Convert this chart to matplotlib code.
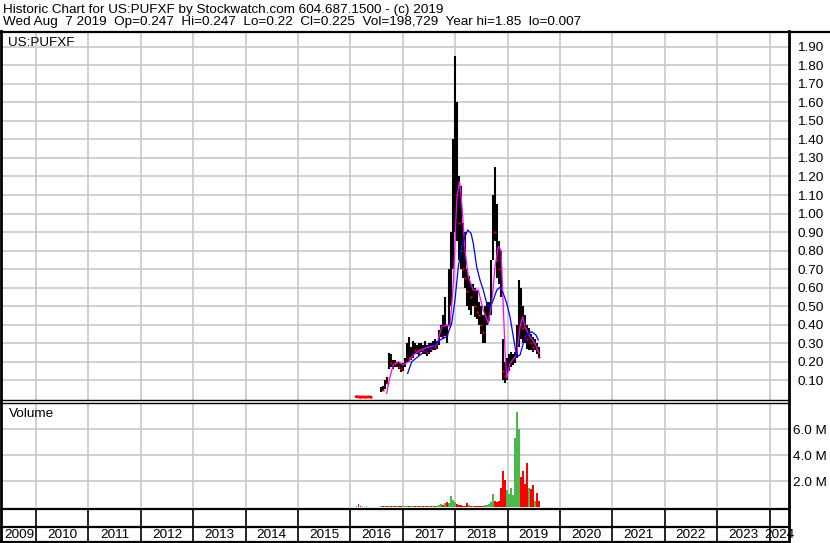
import numpy as np
import pandas as pd
import matplotlib
matplotlib.use("Agg")
import matplotlib.pyplot as plt
from matplotlib.lines import Line2D

plt.rcParams['font.family'] = ['Liberation Sans', 'DejaVu Sans']

# biweekly bars, Feb 2016 .. Aug 2019 (NaN = no trading shown)
bar_dates = pd.date_range('2016-02-12', periods=92, freq='14D')
nan = np.nan
highs = [0.015, 0.015, 0.012, 0.013, 0.012, 0.011, 0.012, 0.010, nan, nan, nan, nan,
         0.06, 0.07, 0.10, 0.115, 0.245, 0.24, 0.21, 0.21, 0.20, 0.20, 0.19, 0.19,
         0.22, 0.30, 0.33, 0.28, 0.31, 0.30, 0.29, 0.30, 0.30, 0.29, 0.31, 0.29,
         0.30, 0.30, 0.31, 0.32, 0.31, 0.37, 0.40, 0.45, 0.55, 0.40, 0.70, 0.90,
         1.40, 1.85, 1.60, 1.20, 1.15, 0.95, 0.90, 0.70, 0.66, 0.62, 0.62, 0.60,
         0.58, 0.52, 0.50, 0.45, 0.50, 0.52, 0.52, 0.75, 1.10, 1.25, 1.05, 0.85,
         0.80, 0.32, 0.20, 0.22, 0.24, 0.25, 0.24, 0.25, 0.40, 0.64, 0.60, 0.50,
         0.45, 0.40, 0.38, 0.35, 0.33, 0.32, 0.30, 0.28]
lows = [0.007, 0.008, 0.007, 0.007, 0.007, 0.007, 0.008, 0.007, nan, nan, nan, nan,
        0.035, 0.04, 0.05, 0.08, 0.16, 0.17, 0.16, 0.17, 0.17, 0.16, 0.145, 0.15,
        0.17, 0.19, 0.20, 0.21, 0.22, 0.24, 0.24, 0.23, 0.25, 0.24, 0.24, 0.23,
        0.24, 0.25, 0.26, 0.26, 0.27, 0.29, 0.33, 0.32, 0.34, 0.30, 0.40, 0.50,
        0.70, 0.90, 0.85, 0.75, 0.70, 0.65, 0.60, 0.50, 0.48, 0.45, 0.50, 0.44,
        0.43, 0.40, 0.35, 0.30, 0.30, 0.40, 0.42, 0.45, 0.75, 0.85, 0.65, 0.62,
        0.55, 0.10, 0.085, 0.10, 0.15, 0.17, 0.18, 0.19, 0.22, 0.28, 0.32, 0.30,
        0.30, 0.27, 0.26, 0.26, 0.25, 0.26, 0.24, 0.22]
closes = [0.010, 0.009, 0.008, 0.009, 0.008, 0.008, 0.009, 0.008, nan, nan, nan, nan,
          0.05, 0.045, 0.09, 0.085, 0.21, 0.19, 0.20, 0.19, 0.19, 0.17, 0.16, 0.18,
          0.20, 0.24, 0.22, 0.25, 0.27, 0.26, 0.27, 0.25, 0.27, 0.26, 0.27, 0.25,
          0.28, 0.27, 0.29, 0.28, 0.30, 0.35, 0.37, 0.34, 0.40, 0.35, 0.62, 0.85,
          1.20, 1.50, 1.10, 0.95, 0.80, 0.70, 0.65, 0.58, 0.60, 0.55, 0.57, 0.50,
          0.47, 0.45, 0.40, 0.36, 0.42, 0.45, 0.50, 0.70, 1.00, 0.90, 0.75, 0.70,
          0.60, 0.15, 0.12, 0.19, 0.20, 0.21, 0.22, 0.23, 0.35, 0.45, 0.40, 0.38,
          0.34, 0.32, 0.33, 0.30, 0.28, 0.29, 0.26, 0.225]
volumes = [0.05, 0.25, 0.05, 0.05, 0.03, 0.05, 0.03, 0.02, 0, 0, 0, 0,
           0.05, 0.08, 0.06, 0.05, 0.07, 0.06, 0.05, 0.06, 0.05, 0.04, 0.06, 0.08,
           0.06, 0.10, 0.08, 0.05, 0.06, 0.10, 0.07, 0.05, 0.08, 0.06, 0.09, 0.07,
           0.05, 0.08, 0.06, 0.10, 0.08, 0.15, 0.20, 0.12, 0.30, 0.35, 0.30, 0.85,
           0.55, 0.40, 0.20, 0.15, 0.12, 0.10, 0.08, 0.30, 0.15, 0.08, 0.05, 0.07,
           0.10, 0.06, 0.08, 0.10, 0.12, 0.15, 0.25, 0.40, 1.00, 0.50, 0.40, 0.50,
           1.50, 2.80, 2.10, 1.30, 1.00, 1.50, 0.90, 5.30, 7.30, 6.00, 2.30, 2.80,
           1.80, 3.40, 1.50, 1.40, 1.70, 0.50, 1.10, 0.50]

# moving averages (decimal years, price)
ma_short_x = [2016.693, 2016.756, 2016.819, 2016.914, 2017.010, 2017.105, 2017.200,
              2017.328, 2017.456, 2017.647, 2017.742, 2017.838, 2017.901, 2017.964,
              2018.029, 2018.078, 2018.105, 2018.143, 2018.187, 2018.250, 2018.345,
              2018.441, 2018.536, 2018.632, 2018.697, 2018.760, 2018.823, 2018.874,
              2018.918, 2018.950, 2018.983, 2019.046, 2019.174, 2019.237, 2019.288,
              2019.332, 2019.427, 2019.523, 2019.599]
ma_short_y = [0.028, 0.118, 0.181, 0.199, 0.181, 0.199, 0.235, 0.262, 0.275, 0.289,
              0.388, 0.397, 0.388, 0.623, 1.073, 1.172, 1.127, 0.983, 0.803, 0.658,
              0.586, 0.586, 0.478, 0.406, 0.515, 0.712, 0.821, 0.803, 0.496, 0.262,
              0.109, 0.190, 0.235, 0.388, 0.442, 0.388, 0.334, 0.298, 0.244]
ma_long_x = [2017.093, 2017.170, 2017.328, 2017.456, 2017.582, 2017.710, 2017.838,
             2017.933, 2017.996, 2018.059, 2018.124, 2018.187, 2018.239, 2018.302,
             2018.345, 2018.410, 2018.473, 2018.536, 2018.601, 2018.664, 2018.727,
             2018.792, 2018.855, 2018.918, 2018.983, 2019.046, 2019.109, 2019.174,
             2019.237, 2019.300, 2019.365, 2019.460, 2019.542, 2019.586]
ma_long_y = [0.136, 0.199, 0.235, 0.262, 0.280, 0.316, 0.334, 0.406, 0.532, 0.712,
             0.821, 0.875, 0.911, 0.893, 0.839, 0.712, 0.641, 0.586, 0.515, 0.496,
             0.532, 0.586, 0.601, 0.568, 0.515, 0.442, 0.334, 0.226, 0.235, 0.298,
             0.343, 0.361, 0.343, 0.316]

years = list(range(2009, 2025))
price_ticks = [round(0.1 * k, 2) for k in range(1, 20)]
vol_ticks = [2, 4, 6]

W, H = 830, 543
fig = plt.figure(figsize=(W / 100, H / 100), dpi=100)
fig.patch.set_facecolor('white')

def rect(x0, y0, x1, y1):
    return [x0 / W, 1 - y1 / H, (x1 - x0) / W, (y1 - y0) / H]

def px_to_year(p):
    return 2010 + (p - 36) / 52.4

def ftext(xp, yp, s, **kw):
    fig.text(xp / W, 1 - yp / H, s, va='center', **kw)

X0, X1 = px_to_year(2), px_to_year(789)
grid_col = '#c8c8c8'
FS = 9.7

x = np.array([d.year + (d.dayofyear - 0.5) / 365.25 for d in bar_dates])
highs = np.array(highs); lows = np.array(lows); closes = np.array(closes)
volumes = np.array(volumes)
prev = np.concatenate([[closes[0]], closes[:-1]])
down = closes < prev

# price panel
ax = fig.add_axes(rect(2, 32, 789, 400))
ax.set_xlim(X0, X1)
ax.set_ylim(-0.008, 1.981)
for yr in years[1:]:
    ax.axvline(yr, color=grid_col, lw=1.2, zorder=0)
for t in price_ticks:
    ax.axhline(t, color=grid_col, lw=1.2, zorder=0)
ax.vlines(x, lows, highs, color='black', lw=1.5, zorder=2)
ax.plot(x[down], closes[down], 's', color='red', ms=2, mec='none', zorder=3)
ax.plot(x[:8], closes[:8], '-', color='red', lw=2, zorder=3)
ax.plot(ma_short_x, ma_short_y, color='#ff00ff', lw=0.9, zorder=4)
ax.plot(ma_long_x, ma_long_y, color='#0000ff', lw=0.9, zorder=4)
ax.yaxis.tick_right()
ax.set_yticks(price_ticks)
ax.set_yticklabels(['%.2f' % t for t in price_ticks], fontsize=FS)
ax.tick_params(axis='y', length=0, pad=6)
ax.set_xticks([])
for s in ax.spines.values():
    s.set_visible(False)

# volume panel
av = fig.add_axes(rect(2, 403, 789, 507))
av.set_xlim(X0, X1)
av.set_ylim(0, 8.0)
for yr in years[1:]:
    av.axvline(yr, color=grid_col, lw=1.2, zorder=0)
for t in vol_ticks:
    av.axhline(t, color=grid_col, lw=1.2, zorder=0)
vcol = np.where(down, 'red', '#4cb84c')
av.bar(x, volumes, width=0.036, color=vcol, lw=0, zorder=2)
av.yaxis.tick_right()
av.set_yticks(vol_ticks)
av.set_yticklabels(['%.1f M' % t for t in vol_ticks], fontsize=FS)
av.tick_params(axis='y', length=0, pad=3)
av.set_xticks([])
for s in av.spines.values():
    s.set_visible(False)

# year rows
ay = fig.add_axes(rect(2, 508, 789, 542))
ay.set_xlim(X0, X1)
ay.set_ylim(0, 1)
ay.axis('off')
for yr in years[1:]:
    ay.axvline(yr, color='black', lw=1.2)
for yr in years:
    lo, hi = max(yr, X0), min(yr + 1, X1)
    ay.text((lo + hi) / 2, 0.2, str(yr), ha='center', va='center', fontsize=FS)

# frame lines (pixel coordinates)
def hline(y, x0, x1, lw):
    fig.add_artist(Line2D([x0 / W, x1 / W], [1 - y / H, 1 - y / H],
                          transform=fig.transFigure, color='black', lw=lw))

def vline(xp, y0, y1, lw):
    fig.add_artist(Line2D([xp / W, xp / W], [1 - y0 / H, 1 - y1 / H],
                          transform=fig.transFigure, color='black', lw=lw))

hline(31.5, 0, 830, 1.6)
hline(400, 0, 789, 1.0)
hline(403, 0, 789, 1.0)
hline(508.5, 0, 789, 1.6)
hline(527, 0, 789, 1.6)
hline(541.5, 0, 789, 1.6)
vline(1, 31, 543, 2.0)
vline(789, 31, 543, 2.0)

ftext(3, 10, 'Historic Chart for US:PUFXF by Stockwatch.com 604.687.1500 - (c) 2019',
      fontsize=FS)
ftext(3, 22.5, 'Wed Aug  7 2019  Op=0.247  Hi=0.247  Lo=0.22  Cl=0.225  '
      'Vol=198,729  Year hi=1.85  lo=0.007', fontsize=FS)
ftext(8, 43, 'US:PUFXF', fontsize=FS)
ftext(9, 414, 'Volume', fontsize=FS)

fig.savefig('out.png', dpi=100)
